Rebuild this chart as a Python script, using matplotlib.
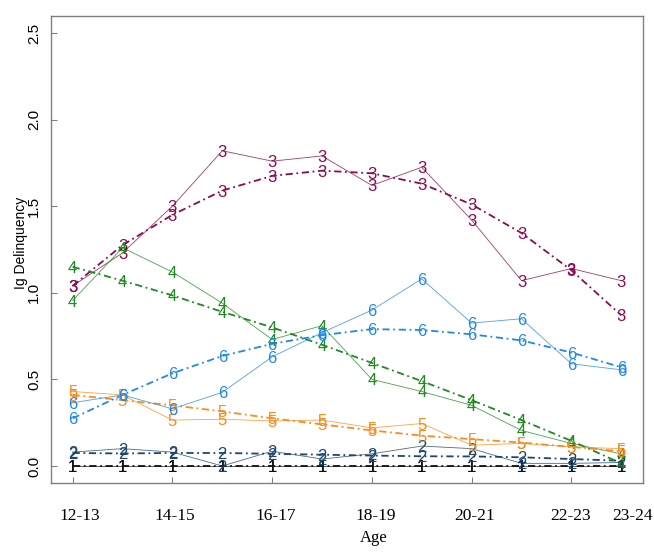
import numpy as np
import matplotlib
matplotlib.use("Agg")
import matplotlib.pyplot as plt

# age points (12 waves) and the labels shown under the axis
age_points = [1, 2, 3, 4, 5, 6, 7, 8, 9, 10, 11, 12]
age_labels = ["12-13", "14-15", "16-17", "18-19", "20-21", "22-23", "23-24"]
y_ticks = [0.0, 0.5, 1.0, 1.5, 2.0, 2.5]

# observed group means (thin solid lines)
obs_g1 = [0, 0, 0, 0, 0, 0, 0, 0, 0, 0, 0, 0]
obs_g2 = [0.08, 0.10, 0.08, 0.00, 0.085, 0.04, 0.07, 0.115, 0.10, 0.015, 0.015, 0.02]
obs_g3 = [1.04, 1.23, 1.50, 1.82, 1.76, 1.79, 1.62, 1.725, 1.42, 1.07, 1.14, 1.07]
obs_g4 = [0.955, 1.26, 1.12, 0.94, 0.73, 0.81, 0.50, 0.43, 0.35, 0.205, 0.13, 0.07]
obs_g5 = [0.43, 0.41, 0.265, 0.27, 0.26, 0.265, 0.22, 0.245, 0.12, 0.13, 0.11, 0.10]
obs_g6 = [0.365, 0.41, 0.33, 0.425, 0.63, 0.77, 0.90, 1.08, 0.825, 0.85, 0.59, 0.555]

# fitted trajectories (dash-dot lines)
fit_g1 = [0, 0, 0, 0, 0, 0, 0, 0, 0, 0, 0, 0]
fit_g2 = [0.075, 0.072, 0.075, 0.075, 0.07, 0.065, 0.06, 0.056, 0.055, 0.05, 0.04, 0.03]
fit_g3 = [1.04, 1.275, 1.45, 1.59, 1.675, 1.705, 1.69, 1.63, 1.51, 1.345, 1.13, 0.87]
fit_g4 = [1.15, 1.07, 0.985, 0.89, 0.80, 0.70, 0.595, 0.49, 0.38, 0.265, 0.145, 0.015]
fit_g5 = [0.41, 0.38, 0.35, 0.315, 0.275, 0.24, 0.205, 0.175, 0.155, 0.135, 0.11, 0.085]
fit_g6 = [0.275, 0.41, 0.535, 0.635, 0.705, 0.755, 0.79, 0.785, 0.76, 0.725, 0.655, 0.57]

group_names = ["1", "2", "3", "4", "5", "6"]
colors = ["#111111", "#1C4670", "#8B0A50", "#1F8A1F", "#FA8C1E", "#2288E8"]

observed = [obs_g1, obs_g2, obs_g3, obs_g4, obs_g5, obs_g6]
fitted = [fit_g1, fit_g2, fit_g3, fit_g4, fit_g5, fit_g6]

# layout
tick_pos = [1, 3, 5, 7, 9, 11]
label_pos = [1.15, 3.04, 5.07, 7.08, 9.05, 10.98, 12.22]

fig = plt.figure(figsize=(6.54, 5.52), dpi=100)
ax = fig.add_axes([0.0775, 0.1245, 0.906, 0.8471])

for name, col, ob, ft in zip(group_names, colors, observed, fitted):
    ax.plot(age_points, ob, color=col, lw=0.6, alpha=0.8, zorder=2)
    ax.plot(age_points, ft, color=col, lw=1.3, linestyle=(0, (4, 2, 1, 2)), zorder=2)
    for x, y in zip(age_points, ob):
        ax.text(x, y, name, color=col, fontsize=12, family="Liberation Sans",
                ha="center", va="center_baseline", zorder=3)
    for x, y in zip(age_points, ft):
        ax.text(x, y, name, color=col, fontsize=12, family="Liberation Sans",
                ha="center", va="center_baseline", zorder=3)

ax.set_xlim(0.56, 12.44)
ax.set_ylim(-0.1, 2.6)

ax.set_xticks(tick_pos)
ax.set_xticklabels([])
ax.set_xticks(label_pos, minor=True)
ax.set_xticklabels(age_labels, minor=True, family="Liberation Serif", fontsize=12.5)
ax.tick_params(axis="x", which="major", direction="in", length=4, color="#808080")
ax.tick_params(axis="x", which="minor", length=0, pad=18)

ax.set_yticks(y_ticks)
ax.set_yticklabels([f"{v:.1f}" for v in y_ticks], rotation=90, va="center",
                   family="Liberation Sans", fontsize=11)
ax.tick_params(axis="y", direction="in", length=4, color="#808080", pad=7)

for s in ax.spines.values():
    s.set_color("#808080")
    s.set_linewidth(1.0)

ax.set_xlabel("Age", family="Liberation Serif", fontsize=12)
ax.xaxis.set_label_coords(0.5456, -0.1)
ax.set_ylabel("Ig Delinquency", family="Liberation Sans", fontsize=10)
ax.yaxis.set_label_coords(-0.0383, 0.515)

fig.savefig("out.png", dpi=100)
